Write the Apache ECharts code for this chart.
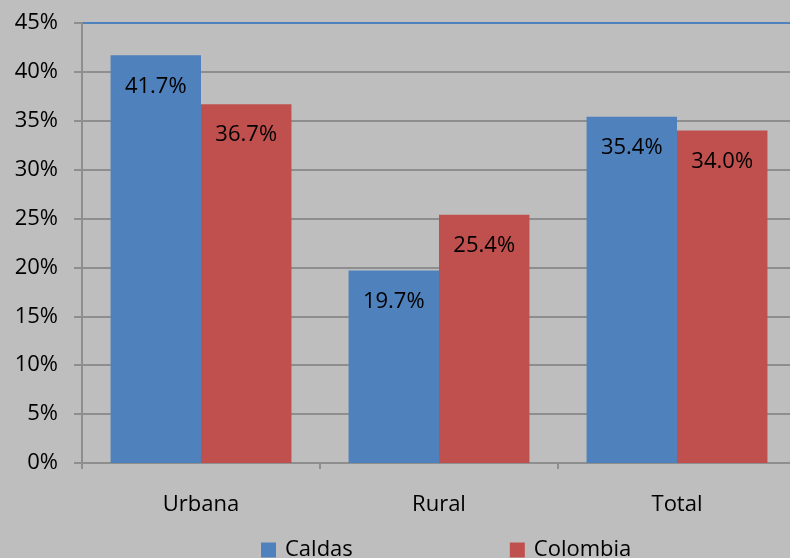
<!DOCTYPE html>
<html>
<head>
<meta charset="utf-8">
<script src="https://cdn.jsdelivr.net/npm/echarts@6/dist/echarts.min.js"></script>
<style>
  html, body { margin: 0; padding: 0; background: #bebebe; }
  #chart { width: 790px; height: 558px; }
</style>
</head>
<body>
<div id="chart"></div>
<script>
var categories = ['Urbana', 'Rural', 'Total'];
var caldas = [41.7, 19.7, 35.4];
var colombia = [36.7, 25.4, 34.0];
var seriesNames = ['Caldas', 'Colombia'];

var fontFam = '"Open Sans", "Noto Sans", sans-serif';
var gridGrey = '#8e8e8e';
// 0..45 -> last split line (45%) is blue
var splitColors = [gridGrey, gridGrey, gridGrey, gridGrey, gridGrey, gridGrey, gridGrey, gridGrey, gridGrey, '#4f81bd'];

var chart = echarts.init(document.getElementById('chart'));
var option = {
  backgroundColor: '#bebebe',
  animation: false,
  textStyle: { fontFamily: fontFam },
  grid: { left: 82, width: 714, top: 23, bottom: 95, containLabel: false, outerBoundsMode: 'none' },
  legend: {
    data: seriesNames,
    left: 256,
    top: 534,
    icon: 'rect',
    itemWidth: 15,
    itemHeight: 15,
    itemGap: 157,
    textStyle: { fontSize: 22, color: '#000', fontFamily: fontFam, padding: [0, 0, 0, 4] }
  },
  xAxis: {
    type: 'category',
    data: categories,
    axisLine: { lineStyle: { color: gridGrey, width: 2 } },
    axisTick: { show: true, length: 6, lineStyle: { color: gridGrey, width: 2 } },
    axisLabel: { fontSize: 22, color: '#000', margin: 31, fontFamily: fontFam }
  },
  yAxis: {
    type: 'value',
    min: 0,
    max: 45,
    interval: 5,
    axisLine: { show: true, lineStyle: { color: gridGrey, width: 2 } },
    axisTick: { show: true, length: 8, lineStyle: { color: gridGrey, width: 2 } },
    axisLabel: { fontSize: 22, color: '#000', margin: 24, formatter: '{value}%', fontFamily: fontFam },
    splitLine: { show: true, lineStyle: { color: splitColors, width: 2 } }
  },
  series: [
    {
      name: seriesNames[0],
      type: 'bar',
      data: caldas,
      barGap: '0%',
      barCategoryGap: '24%',
      itemStyle: { color: '#4f81bd' },
      label: {
        show: true, position: 'insideTop', distance: 20,
        fontSize: 22, color: '#000', fontFamily: fontFam,
        formatter: function (p) { return p.value.toFixed(1) + '%'; }
      }
    },
    {
      name: seriesNames[1],
      type: 'bar',
      data: colombia,
      itemStyle: { color: '#c0504d' },
      label: {
        show: true, position: 'insideTop', distance: 20,
        fontSize: 22, color: '#000', fontFamily: fontFam,
        formatter: function (p) { return p.value.toFixed(1) + '%'; }
      }
    }
  ]
};
chart.setOption(option);
</script>
</body>
</html>
